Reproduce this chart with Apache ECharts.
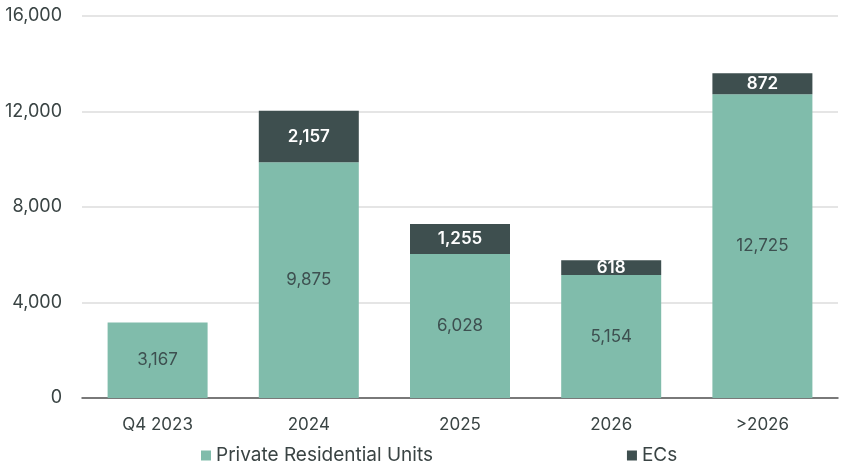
<!DOCTYPE html>
<html>
<head>
<meta charset="utf-8">
<script src="https://cdn.jsdelivr.net/npm/echarts@6/dist/echarts.min.js"></script>
<style>
  html, body { margin: 0; padding: 0; background: #fff; }
  #chart { width: 860px; height: 465px; }
</style>
</head>
<body>
<div id="chart"></div>
<script>
var categories = ['Q4 2023', '2024', '2025', '2026', '>2026'];
var privateUnits = [3167, 9875, 6028, 5154, 12725];
var ecUnits = [null, 2157, 1255, 618, 872];

var chart = echarts.init(document.getElementById('chart'));
var fontName = 'Inter';
var fmt = function (p) { return p.value == null ? '' : p.value.toLocaleString('en-US'); };

chart.setOption({
  animation: false,
  textStyle: { fontFamily: fontName },
  grid: { left: 82, right: 22, top: 16, bottom: 67 },
  legend: {
    left: 196, top: 441,
    itemWidth: 10, itemHeight: 10, itemGap: 194,
    icon: 'rect',
    textStyle: { fontSize: 19, color: '#3a4444', fontFamily: fontName },
    data: ['Private Residential Units', 'ECs']
  },
  xAxis: {
    type: 'category',
    data: categories,
    axisTick: { show: false },
    axisLine: { lineStyle: { color: '#555', width: 1.5 } },
    axisLabel: { fontSize: 17, color: '#3a4444', margin: 18 }
  },
  yAxis: {
    type: 'value',
    min: 0, max: 16000, interval: 4000,
    axisLabel: {
      fontSize: 18, color: '#3a4444', margin: 20,
      formatter: function (v) { return v.toLocaleString('en-US'); }
    },
    splitLine: { lineStyle: { color: '#dcdcdc', width: 1.5 } }
  },
  series: [
    {
      name: 'Private Residential Units',
      type: 'bar', stack: 'total', barWidth: 100,
      data: privateUnits,
      itemStyle: { color: '#80bcab' },
      label: { show: true, position: 'inside', fontSize: 17, color: '#3d5050', formatter: fmt }
    },
    {
      name: 'ECs',
      type: 'bar', stack: 'total', barWidth: 100,
      data: ecUnits,
      itemStyle: { color: '#3e4f4f' },
      label: { show: true, position: 'inside', fontSize: 17, fontWeight: 600, color: '#fff', formatter: fmt }
    }
  ]
});
</script>
</body>
</html>
